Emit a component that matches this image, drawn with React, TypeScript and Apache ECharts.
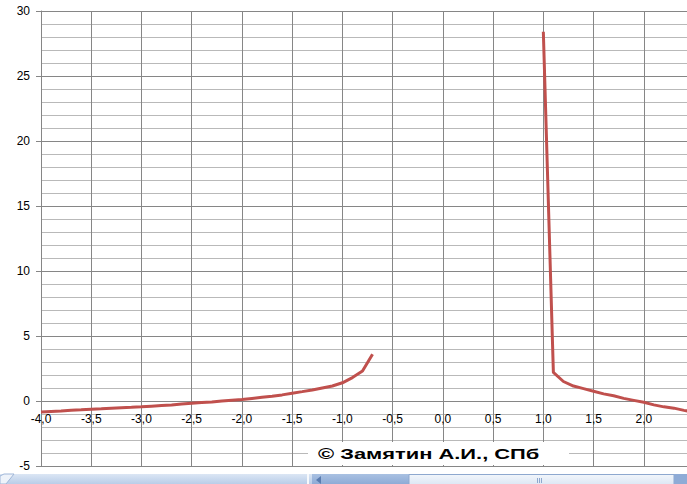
import React, { useEffect, useRef } from "react";
import * as echarts from "echarts";

const leftX = [-4.0, -3.9, -3.8, -3.7, -3.6, -3.5, -3.4, -3.3, -3.2, -3.1, -3.0, -2.9, -2.8, -2.7, -2.6, -2.5, -2.4, -2.3, -2.2, -2.1, -2.0, -1.9, -1.8, -1.7, -1.6, -1.5, -1.4, -1.3, -1.2, -1.1, -1.0, -0.9, -0.8, -0.7];
const leftY = [-0.85, -0.8, -0.77, -0.72, -0.68, -0.63, -0.6, -0.56, -0.52, -0.49, -0.45, -0.4, -0.35, -0.3, -0.23, -0.17, -0.12, -0.07, 0.0, 0.06, 0.12, 0.2, 0.28, 0.36, 0.47, 0.6, 0.72, 0.85, 1.0, 1.15, 1.4, 1.8, 2.3, 3.6];
const rightX = [1.0, 1.1, 1.2, 1.3, 1.4, 1.5, 1.6, 1.7, 1.8, 1.9, 2.0, 2.1, 2.2, 2.3, 2.4, 2.5];
const rightY = [28.4, 2.2, 1.5, 1.15, 0.95, 0.75, 0.55, 0.4, 0.2, 0.05, -0.1, -0.3, -0.45, -0.55, -0.72, -0.85];
const watermark = "© Замятин А.И., СПб";

const X_MIN = -4;
const X_MAX = 2.43;
const Y_MIN = -5;
const Y_MAX = 30;

const fmtX = (v: number) => {
  const r = Math.round(v * 10) / 10;
  if (Math.abs(r * 2 - Math.round(r * 2)) > 1e-6 || Math.abs(v - r) > 1e-6) return "";
  return r.toFixed(1).replace(".", ",");
};

export default function App() {
  const ref = useRef<HTMLDivElement>(null);
  useEffect(() => {
    document.body.style.margin = "0";
    const chart = echarts.init(ref.current!, null, { renderer: "svg" });
    const W = 687;
    const H = 484;
    const top = 11;
    const bottom = 18;
    const plotH = H - top - bottom;
    const zeroY = top + (plotH * Y_MAX) / (Y_MAX - Y_MIN);
    const font = "Liberation Sans, Arial, sans-serif";
    chart.setOption({
      animation: false,
      backgroundColor: "#ffffff",
      grid: [
        { left: 41, top, right: 0, bottom },
        { left: 41, top, right: 0, bottom: H - zeroY },
      ],
      xAxis: [
        {
          type: "value",
          gridIndex: 0,
          min: X_MIN,
          max: X_MAX,
          interval: 0.5,
          axisLine: { onZero: true, lineStyle: { color: "#868686", width: 1 } },
          axisTick: { show: false },
          axisLabel: { show: false },
          splitLine: { show: true, lineStyle: { color: "#868686", width: 1 } },
        },
        {
          type: "value",
          gridIndex: 1,
          min: X_MIN,
          max: X_MAX,
          interval: 0.5,
          axisLine: { show: false },
          axisTick: { show: false },
          axisLabel: {
            formatter: fmtX,
            color: "#000",
            fontSize: 12,
            fontFamily: font,
            margin: 12,
            showMaxLabel: false,
          },
          splitLine: { show: false },
        },
      ],
      yAxis: [
        {
          type: "value",
          gridIndex: 0,
          min: Y_MIN,
          max: Y_MAX,
          interval: 5,
          axisLine: { show: true, onZero: false, lineStyle: { color: "#868686", width: 1 } },
          axisTick: { show: true, length: 5, lineStyle: { color: "#868686" } },
          axisLabel: { color: "#000", fontSize: 12, fontFamily: font, margin: 11 },
          splitLine: { show: true, lineStyle: { color: "#868686", width: 1 } },
          minorTick: { show: false, splitNumber: 5 },
          minorSplitLine: { show: true, lineStyle: { color: "#b9b9b9", width: 1 } },
        },
        {
          type: "value",
          gridIndex: 1,
          min: 0,
          max: Y_MAX,
          show: false,
        },
      ],
      series: [
        {
          type: "line",
          xAxisIndex: 0,
          yAxisIndex: 0,
          data: leftX.map((x, i) => [x, leftY[i]]),
          showSymbol: false,
          clip: true,
          lineStyle: { color: "#c0504d", width: 3 },
          z: 3,
        },
        {
          type: "line",
          xAxisIndex: 0,
          yAxisIndex: 0,
          data: rightX.map((x, i) => [x, rightY[i]]),
          showSymbol: false,
          clip: true,
          lineStyle: { color: "#c0504d", width: 3 },
          z: 3,
        },
      ],
      graphic: [
        { type: "rect", shape: { x: 308, y: 442, width: 261, height: 23 }, style: { fill: "#ffffff" }, z: 10 },
        {
          type: "text",
          x: 318,
          y: 454,
          scaleX: 1.46,
          style: {
            text: watermark,
            fill: "#000",
            font: "bold 15px 'Liberation Sans', Arial, sans-serif",
            verticalAlign: "middle",
          },
          z: 11,
        },
        {
          type: "rect",
          shape: { x: 0, y: 474, width: W, height: 10 },
          style: {
            fill: new echarts.graphic.LinearGradient(0, 0, 0, 1, [
              { offset: 0, color: "#dbe6f4" },
              { offset: 1, color: "#b9cde8" },
            ]),
          },
          z: 10,
        },
        {
          type: "polygon",
          shape: { points: [[0, 484], [0, 476], [4, 474], [14, 474], [6, 484]] },
          style: { fill: "#eef3fa", stroke: "#9fb6d8", lineWidth: 1 },
          z: 11,
        },
        { type: "rect", shape: { x: 307, y: 474, width: 2, height: 10 }, style: { fill: "#f7f9fc" }, z: 11 },
        {
          type: "rect",
          shape: { x: 312, y: 474, width: 97, height: 10 },
          style: {
            fill: new echarts.graphic.LinearGradient(0, 0, 0, 1, [
              { offset: 0, color: "#a9c1e2" },
              { offset: 1, color: "#8eabd6" },
            ]),
          },
          z: 11,
        },
        { type: "polygon", shape: { points: [[316, 480], [321, 476], [321, 484]] }, style: { fill: "#5a7cb0" }, z: 12 },
        {
          type: "rect",
          shape: { x: 409, y: 474.5, width: 265, height: 10 },
          style: {
            fill: new echarts.graphic.LinearGradient(0, 0, 0, 1, [
              { offset: 0, color: "#f2f6fb" },
              { offset: 1, color: "#dde7f4" },
            ]),
            stroke: "#8ea8cf",
            lineWidth: 1,
          },
          z: 11,
        },
        {
          type: "rect",
          shape: { x: 674, y: 474, width: 13, height: 10 },
          style: { fill: "#8eabd6" },
          z: 11,
        },
        { type: "line", shape: { x1: 537.5, y1: 478, x2: 537.5, y2: 483 }, style: { stroke: "#8ea8cf", lineWidth: 1 }, z: 12 },
        { type: "line", shape: { x1: 539.5, y1: 478, x2: 539.5, y2: 483 }, style: { stroke: "#8ea8cf", lineWidth: 1 }, z: 12 },
        { type: "line", shape: { x1: 541.5, y1: 478, x2: 541.5, y2: 483 }, style: { stroke: "#8ea8cf", lineWidth: 1 }, z: 12 },
      ],
    });
    return () => chart.dispose();
  }, []);
  return <div ref={ref} style={{ position: "absolute", left: 0, top: 0, width: 687, height: 484 }} />;
}
